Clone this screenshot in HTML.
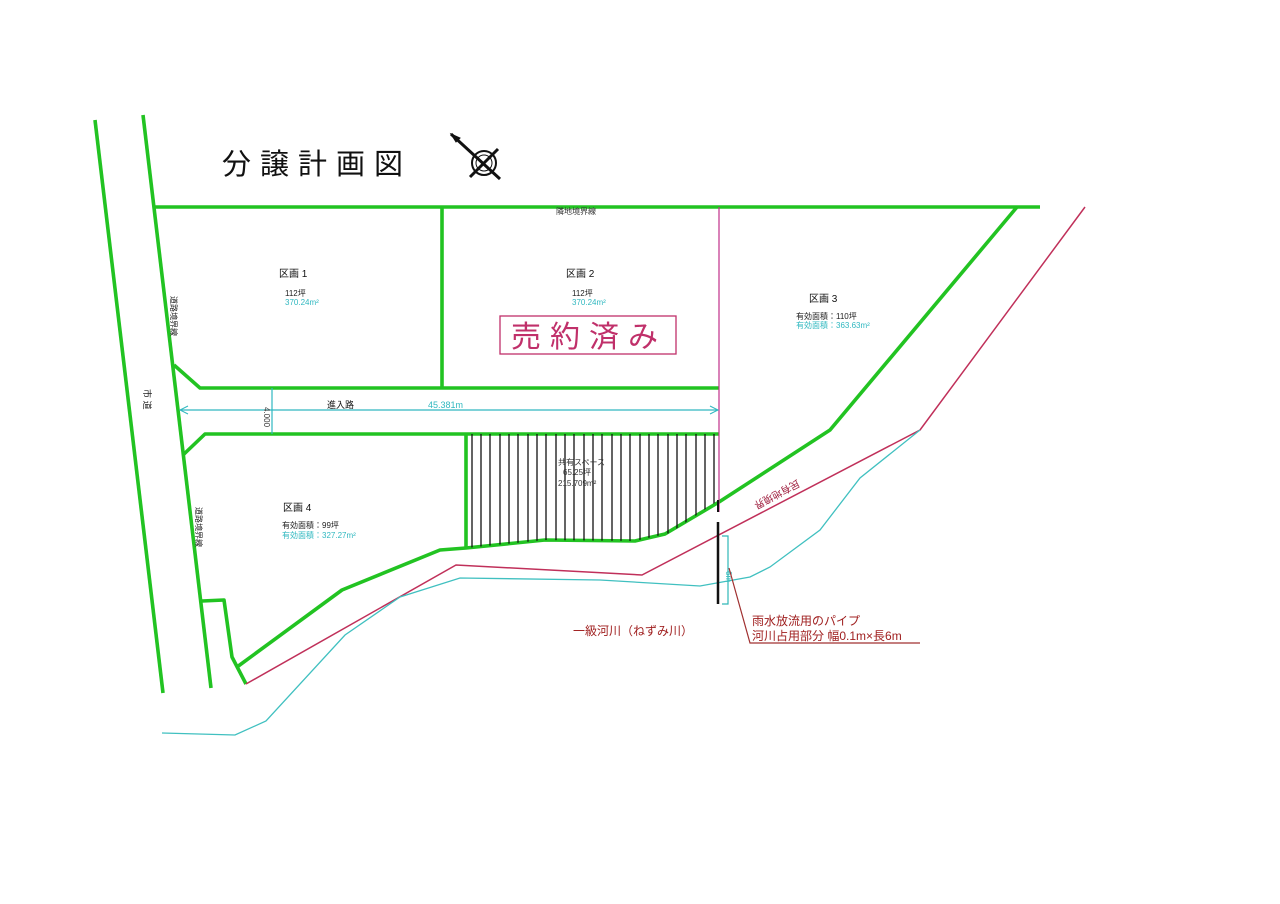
<!DOCTYPE html>
<html><head><meta charset="utf-8">
<style>
html,body{margin:0;padding:0;background:#fff;}
svg{display:block;}
text{font-family:"Liberation Sans","Noto Sans CJK JP",sans-serif;}
</style></head>
<body>
<svg width="1280" height="904" viewBox="0 0 1280 904" xmlns="http://www.w3.org/2000/svg">
<defs>
<clipPath id="hc"><polygon points="466,434 719,434 719,500 670,533 635,541 545,540 466,548"/></clipPath>
</defs>
<text x="222" y="174" font-size="29" fill="#111" letter-spacing="9">分譲計画図</text>
<g stroke="#111" fill="none">
<circle cx="484" cy="163" r="12" stroke-width="2"/>
<circle cx="484" cy="163" r="8" stroke-width="1"/>
<line x1="451" y1="134" x2="500" y2="179" stroke-width="3"/>
<line x1="470" y1="177" x2="498" y2="149" stroke-width="3"/>
<polygon points="451,134 460,138 456,142" fill="#111"/>
</g>
<g stroke="#22c322" stroke-width="3.6" fill="none" stroke-linejoin="round">
<line x1="95" y1="120" x2="163" y2="693"/>
<line x1="143" y1="115" x2="211" y2="688"/>
<line x1="153" y1="207" x2="1040" y2="207"/>
<line x1="442" y1="207" x2="442" y2="388"/>
<polyline points="174,365 200,388 719,388"/>
<polyline points="183,455 205,434 719,434"/>
<line x1="466" y1="434" x2="466" y2="548"/>
<polyline points="237,667 342,590 440,550 466,548 545,540 635,541 665,534 719,502 830,430 1017,207"/>
<polyline points="202,601 224,600 232,657 246,684"/>
</g>
<g clip-path="url(#hc)" stroke="#111" stroke-width="1.3">
<line x1="472" y1="434" x2="472" y2="560"/><line x1="481" y1="434" x2="481" y2="560"/><line x1="490" y1="434" x2="490" y2="560"/><line x1="500" y1="434" x2="500" y2="560"/><line x1="509" y1="434" x2="509" y2="560"/><line x1="518" y1="434" x2="518" y2="560"/><line x1="528" y1="434" x2="528" y2="560"/><line x1="537" y1="434" x2="537" y2="560"/><line x1="546" y1="434" x2="546" y2="560"/><line x1="556" y1="434" x2="556" y2="560"/><line x1="565" y1="434" x2="565" y2="560"/><line x1="574" y1="434" x2="574" y2="560"/><line x1="584" y1="434" x2="584" y2="560"/><line x1="593" y1="434" x2="593" y2="560"/><line x1="602" y1="434" x2="602" y2="560"/><line x1="612" y1="434" x2="612" y2="560"/><line x1="621" y1="434" x2="621" y2="560"/><line x1="630" y1="434" x2="630" y2="560"/><line x1="640" y1="434" x2="640" y2="560"/><line x1="649" y1="434" x2="649" y2="560"/><line x1="658" y1="434" x2="658" y2="560"/><line x1="668" y1="434" x2="668" y2="560"/><line x1="677" y1="434" x2="677" y2="560"/><line x1="686" y1="434" x2="686" y2="560"/><line x1="696" y1="434" x2="696" y2="560"/><line x1="705" y1="434" x2="705" y2="560"/><line x1="714" y1="434" x2="714" y2="560"/>
</g>
<line x1="719" y1="207" x2="719" y2="512" stroke="#c0308a" stroke-width="1.2"/>
<polyline points="246,684 456,565 642,575 920,430 1085,207" fill="none" stroke="#c0305a" stroke-width="1.5"/>
<polyline points="162,733 235,735 266,721 345,635 400,597 460,578 600,580 700,586 750,577 770,567 820,530 860,478 920,430" fill="none" stroke="#40c0c0" stroke-width="1.3"/>
<line x1="718" y1="500" x2="718" y2="512" stroke="#111" stroke-width="2"/>
<line x1="718" y1="522" x2="718" y2="604" stroke="#111" stroke-width="2.5"/>
<polyline points="722,536 728,536 728,604 722,604" fill="none" stroke="#30b8b8" stroke-width="1.2"/>
<text x="722" y="575" font-size="8" fill="#30b8b8" transform="rotate(90 726 575)">6m</text>
<polyline points="729,568 750,643 920,643" fill="none" stroke="#a03030" stroke-width="1.2"/>
<text x="752" y="625" font-size="12" fill="#a02020">雨水放流用のパイプ</text>
<text x="752" y="640" font-size="12" fill="#a02020">河川占用部分 幅0.1m×長6m</text>
<text x="573" y="635" font-size="12" fill="#a02020">一級河川（ねずみ川）</text>
<text x="757" y="510" font-size="10" fill="#a02040" transform="rotate(-28 757 510) rotate(180 782 506)">民有地境界</text>
<line x1="180" y1="410" x2="718" y2="410" stroke="#30b8c0" stroke-width="1.2"/>
<polyline points="188,406 180,410 188,414" fill="none" stroke="#30b8c0"/>
<polyline points="710,406 718,410 710,414" fill="none" stroke="#30b8c0"/>
<line x1="272" y1="388" x2="272" y2="434" stroke="#30b8c0" stroke-width="1.2"/>
<text x="260" y="411" font-size="8" fill="#333" transform="rotate(90 264 411)">4.000</text>
<text x="327" y="408" font-size="9" fill="#111">進入路</text>
<text x="428" y="408" font-size="9" fill="#30b8c0">45.381m</text>
<text x="556" y="214" font-size="8" fill="#333">隣地境界線</text>
<text x="279" y="277" font-size="10" fill="#111">区画 1</text>
<text x="285" y="296" font-size="8" fill="#222">112坪</text>
<text x="285" y="305" font-size="8" fill="#30b8c0">370.24m²</text>
<text x="566" y="277" font-size="10" fill="#111">区画 2</text>
<text x="572" y="296" font-size="8" fill="#222">112坪</text>
<text x="572" y="305" font-size="8" fill="#30b8c0">370.24m²</text>
<rect x="500" y="316" width="176" height="38" fill="none" stroke="#c0306a" stroke-width="1.3"/>
<text x="511" y="347" font-size="30" fill="#c0306a" letter-spacing="9">売約済み</text>
<text x="809" y="302" font-size="10" fill="#111">区画 3</text>
<text x="796" y="319" font-size="8" fill="#222">有効面積：110坪</text>
<text x="796" y="328" font-size="8" fill="#30b8c0">有効面積：363.63m²</text>
<text x="283" y="511" font-size="10" fill="#111">区画 4</text>
<text x="282" y="528" font-size="8" fill="#222">有効面積：99坪</text>
<text x="282" y="538" font-size="8" fill="#30b8c0">有効面積：327.27m²</text>
<text x="558" y="465" font-size="8" fill="#333">共有スペース</text>
<text x="563" y="475" font-size="8" fill="#333">65.25坪</text>
<text x="558" y="486" font-size="8" fill="#333">215.709m²</text>
<text x="171" y="296" font-size="8" fill="#222" transform="rotate(90 171 296)">道路境界線</text>
<text x="196" y="507" font-size="8" fill="#222" transform="rotate(90 196 507)">道路境界線</text>
<text x="144" y="389" font-size="9" fill="#222" transform="rotate(90 144 389)">市 道</text>
</svg>
</body></html>
